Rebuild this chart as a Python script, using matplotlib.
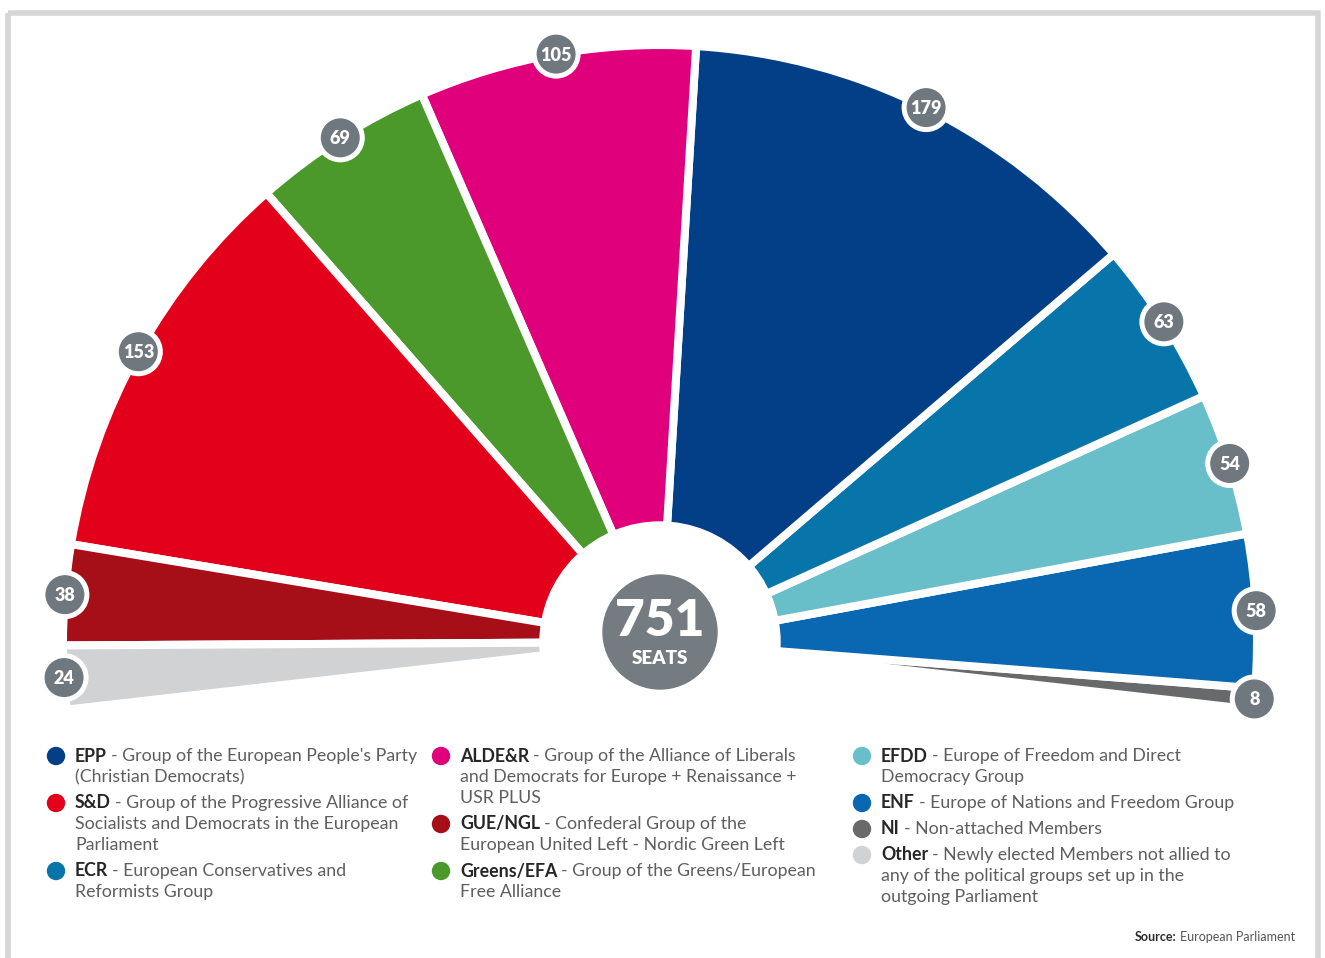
import numpy as np
import matplotlib.pyplot as plt
from matplotlib.patches import Circle, Rectangle

# seats per group, in order around the hemicycle (right bottom -> left bottom)
groups = ['NI', 'ENF', 'EFDD', 'ECR', 'EPP', 'ALDE&R', 'Greens/EFA', 'S&D', 'GUE/NGL', 'Other']
seats = [8, 58, 54, 63, 179, 105, 69, 153, 38, 24]
colors = ['#68696b', '#0a67b2', '#68bfca', '#0875aa', '#023f87',
          '#e0007c', '#4c992b', '#e3001b', '#a60e18', '#d1d2d4']
total = sum(seats)

legend_cols = [
    [('EPP', ["Group of the European People's Party", "(Christian Democrats)"]),
     ('S&D', ["Group of the Progressive Alliance of", "Socialists and Democrats in the European", "Parliament"]),
     ('ECR', ["European Conservatives and", "Reformists Group"])],
    [('ALDE&R', ["Group of the Alliance of Liberals", "and Democrats for Europe + Renaissance +", "USR PLUS"]),
     ('GUE/NGL', ["Confederal Group of the", "European United Left - Nordic Green Left"]),
     ('Greens/EFA', ["Group of the Greens/European", "Free Alliance"])],
    [('EFDD', ["Europe of Freedom and Direct", "Democracy Group"]),
     ('ENF', ["Europe of Nations and Freedom Group"]),
     ('NI', ["Non-attached Members"]),
     ('Other', ["Newly elected Members not allied to", "any of the political groups set up in the", "outgoing Parliament"])],
]
color_of = dict(zip(groups, colors))

FONT = ['Lato', 'DejaVu Sans']
W, H = 1325, 958
fig = plt.figure(figsize=(W / 100, H / 100), dpi=100)
ax = fig.add_axes([0, 0, 1, 1])

cx, cy = 660, 642
span = 193.0
fracs = np.array(seats) / total * span / 360
wedges, _ = ax.pie(fracs, normalize=False, colors=colors, startangle=6.5,
                   counterclock=False, center=(cx, cy), radius=597,
                   wedgeprops=dict(edgecolor='white', linewidth=5.8))
ax.set_xlim(0, W)
ax.set_ylim(H, 0)
ax.set_aspect('auto')
ax.axis('off')

# hole and central badge
ax.add_patch(Circle((cx, cy), 120, color='white', zorder=3))
ax.add_patch(Circle((cx, 632), 57, color='#747c81', zorder=4))
ax.text(cx, 621, str(total), ha='center', va='center', color='white',
        fontsize=37, fontweight='heavy', family=FONT, zorder=5)
ax.text(cx, 658, 'SEATS', ha='center', va='center', color='white',
        fontsize=13.5, fontweight='heavy', family=FONT, zorder=5)

# seat count badges on the rim
for w, n in zip(wedges, seats):
    mid = np.deg2rad((w.theta1 + w.theta2) / 2)
    x = cx + 597 * np.cos(mid)
    y = cy + 597 * np.sin(mid)
    ax.add_patch(Circle((x, y), 22, facecolor='#6f787e', edgecolor='white',
                        linewidth=3.6, zorder=6))
    ax.text(x, y + 1, str(n), ha='center', va='center', color='white',
            fontsize=13, fontweight='heavy', family=FONT, zorder=7)

# legend
fig.canvas.draw()
renderer = fig.canvas.get_renderer()
col_x = [56, 441, 862]
line_h = 21
fs = 12.8
for cx_dot, entries in zip(col_x, legend_cols):
    y = 756
    tx = cx_dot + 19
    for abbr, lines in entries:
        ax.add_patch(Circle((cx_dot, y), 8.5, color=color_of[abbr], zorder=3))
        t = ax.text(tx, y, abbr, ha='left', va='center', color='#262626',
                    fontsize=fs, fontweight='bold', family=FONT)
        wpx = t.get_window_extent(renderer).width
        ax.text(tx + wpx + 4, y, '- ' + lines[0], ha='left', va='center', color='#5e5e5e',
                fontsize=fs, fontweight='normal', family=FONT)
        for k, ln in enumerate(lines[1:], start=1):
            ax.text(tx, y + k * line_h, ln, ha='left', va='center', color='#5e5e5e',
                    fontsize=fs, fontweight='normal', family=FONT)
        y += len(lines) * line_h + 5

# source
s = ax.text(1295, 937, 'European Parliament', ha='right', va='center', color='#555555',
            fontsize=9, fontweight='normal', family=FONT)
sw = s.get_window_extent(renderer).width
ax.text(1295 - sw - 3, 937, 'Source:', ha='right', va='center', color='#2b2b2b',
        fontsize=9, fontweight='bold', family=FONT)

# light frame around the graphic
ax.add_patch(Rectangle((8, 13), 1310, 980, fill=False, edgecolor='#d6d6d6',
                       linewidth=4, zorder=0, clip_on=True))

fig.savefig('out.png', dpi=100)
